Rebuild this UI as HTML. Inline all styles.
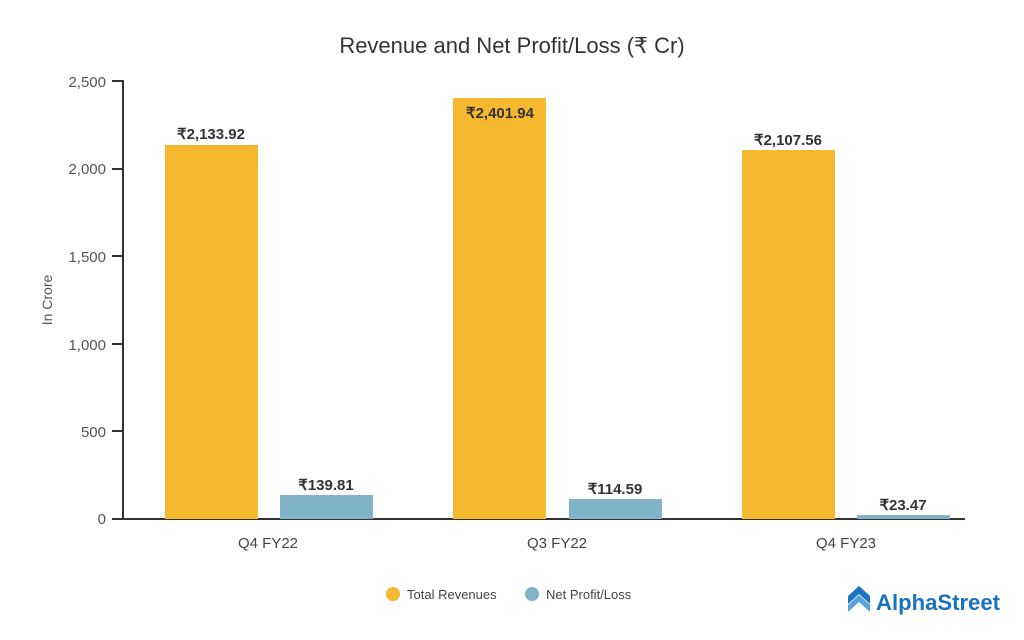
<!DOCTYPE html>
<html><head><meta charset="utf-8"><style>
html,body{margin:0;padding:0;background:#fff;}
svg{display:block;font-family:"Liberation Sans Narrow","Liberation Sans",sans-serif;}
</style></head><body>
<svg width="1024" height="640" viewBox="0 0 1024 640">
<text x="512" y="53" font-size="22" fill="#333" text-anchor="middle">Revenue and Net Profit/Loss (₹ Cr)</text>
<g fill="#555" font-size="15" text-anchor="end">
<text x="106" y="87">2,500</text>
<text x="106" y="174">2,000</text>
<text x="106" y="262">1,500</text>
<text x="106" y="350">1,000</text>
<text x="106" y="437">500</text>
<text x="106" y="524">0</text>
</g>
<g stroke="#333" stroke-width="2">
<line x1="123" y1="81" x2="123" y2="520"/>
<line x1="112" y1="81" x2="124" y2="81"/>
<line x1="112" y1="169" x2="124" y2="169"/>
<line x1="112" y1="256" x2="124" y2="256"/>
<line x1="112" y1="344" x2="124" y2="344"/>
<line x1="112" y1="431" x2="124" y2="431"/>
<line x1="112" y1="519" x2="965" y2="519"/>
</g>
<text transform="translate(52 300) rotate(-90)" font-size="14" fill="#555" text-anchor="middle">In Crore</text>
<g fill="#F5B82E">
<rect x="165" y="145" width="93" height="374"/>
<rect x="453" y="98" width="93" height="421"/>
<rect x="742" y="150" width="93" height="369"/>
</g>
<g fill="#80B3C8">
<rect x="280" y="495" width="93" height="24"/>
<rect x="569" y="499" width="93" height="20"/>
<rect x="857" y="515" width="93" height="4"/>
</g>
<g font-size="15" font-weight="bold" fill="#333" text-anchor="middle">
<text x="211" y="139">₹2,133.92</text>
<text x="500" y="118">₹2,401.94</text>
<text x="788" y="145">₹2,107.56</text>
<text x="326" y="490">₹139.81</text>
<text x="615" y="494">₹114.59</text>
<text x="903" y="510">₹23.47</text>
</g>
<g font-size="15" fill="#444" text-anchor="middle">
<text x="268" y="548">Q4 FY22</text>
<text x="557" y="548">Q3 FY22</text>
<text x="846" y="548">Q4 FY23</text>
</g>
<circle cx="393" cy="594" r="7" fill="#F5B82E"/>
<text x="407" y="599" font-size="13" fill="#444">Total Revenues</text>
<circle cx="532" cy="594" r="7" fill="#80B3C8"/>
<text x="546" y="599" font-size="13" fill="#444">Net Profit/Loss</text>
<g transform="translate(848 590)">
<path d="M0 6 L11 -4 L22 6 L22 14 L11 4 L0 14 Z" fill="#1a73c0"/>
<path d="M0 15 L11 5 L22 15 L22 22 L11 12 L0 22 Z" fill="#5aa0dc"/>
</g>
<text x="876" y="610" font-size="22" font-weight="bold" fill="#1a73c0" textLength="124" lengthAdjust="spacingAndGlyphs">AlphaStreet</text>
</svg>
</body></html>
